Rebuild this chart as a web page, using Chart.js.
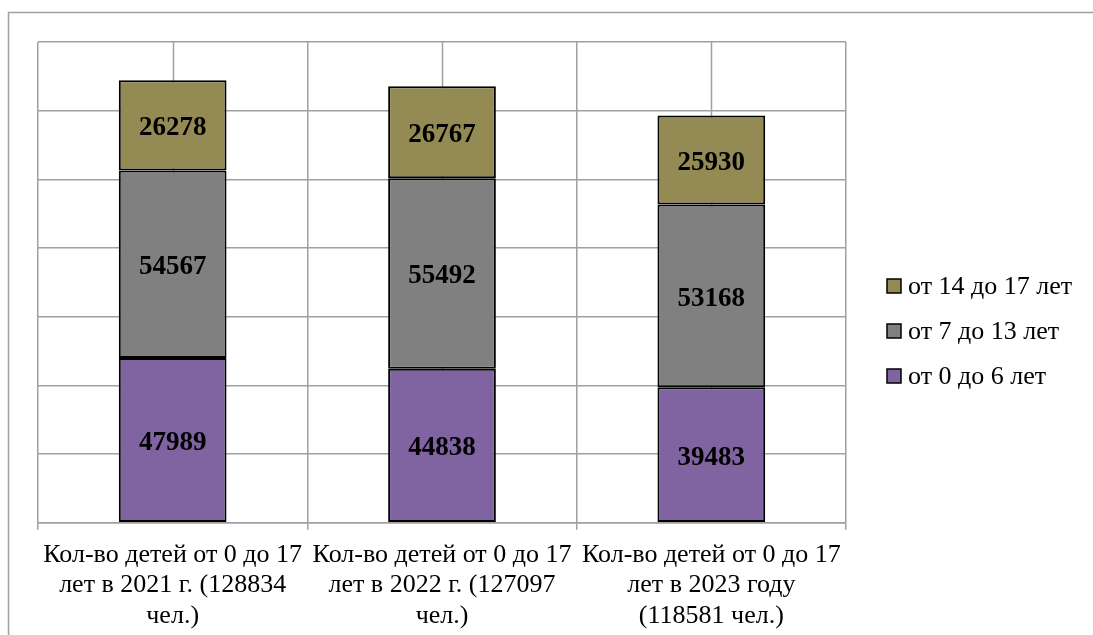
<!DOCTYPE html>
<html>
<head>
<meta charset="utf-8">
<script src="https://cdn.jsdelivr.net/npm/chart.js@4.4.1/dist/chart.umd.min.js"></script>
<style>
  body { margin: 0; background: #fff; }
  #wrap { width: 1093px; height: 635px; position: relative; overflow: hidden; }
</style>
</head>
<body>
<div id="wrap"><canvas id="kids" width="1093" height="641"></canvas></div>
<script>
const categories = [
    ['Кол-во детей от 0 до 17', 'лет в 2021 г. (128834', 'чел.)'],
    ['Кол-во детей от 0 до 17', 'лет в 2022 г. (127097', 'чел.)'],
    ['Кол-во детей от 0 до 17', 'лет в 2023 году', '(118581 чел.)']
];
const age0to6 = [47989, 44838, 39483];
const age7to13 = [54567, 55492, 53168];
const age14to17 = [26278, 26767, 25930];

const seriesNames = ['от 0 до 6 лет', 'от 7 до 13 лет', 'от 14 до 17 лет'];
const seriesColors = ['#8064A2', '#808080', '#948A54'];

const gridGray = '#a0a0a0';
const serif = '"Liberation Serif", "Times New Roman", serif';

// outer frame of the chart object
const framePlugin = {
    id: 'frame',
    beforeDraw(chart) {
        const ctx = chart.ctx;
        ctx.save();
        ctx.strokeStyle = gridGray;
        ctx.lineWidth = 1.5;
        ctx.strokeRect(8.5, 12.5, 1200, 800);
        ctx.restore();
    }
};

// extra vertical lines through category centres
const centreLines = {
    id: 'centreLines',
    beforeDatasetsDraw(chart) {
        const ctx = chart.ctx;
        const x = chart.scales.x;
        const area = chart.chartArea;
        ctx.save();
        ctx.strokeStyle = gridGray;
        ctx.lineWidth = 1.5;
        for (let i = 0; i < categories.length; i++) {
            let px = Math.round(x.getPixelForTick(i)) + 0.5;
            ctx.beginPath();
            ctx.moveTo(px, area.top);
            ctx.lineTo(px, area.bottom);
            ctx.stroke();
        }
        ctx.restore();
    }
};

// value labels in the middle of each segment
const valueLabels = {
    id: 'valueLabels',
    afterDatasetsDraw(chart) {
        const ctx = chart.ctx;
        ctx.save();
        ctx.font = 'bold 27px ' + serif;
        ctx.fillStyle = '#000';
        ctx.textAlign = 'center';
        ctx.textBaseline = 'middle';
        chart.data.datasets.forEach(function (ds, di) {
            chart.getDatasetMeta(di).data.forEach(function (bar, i) {
                let mid = (bar.y + bar.base) / 2;
                ctx.fillText(ds.data[i], bar.x, mid + 3);
            });
        });
        ctx.restore();
    }
};

// legend on the right, top series first
const sideLegend = {
    id: 'sideLegend',
    afterDraw(chart) {
        const ctx = chart.ctx;
        const left = chart.chartArea.right + 41;
        ctx.save();
        ctx.font = '26px ' + serif;
        ctx.textBaseline = 'middle';
        ctx.textAlign = 'left';
        let row = 0;
        for (let di = chart.data.datasets.length - 1; di >= 0; di--) {
            let ds = chart.data.datasets[di];
            let yc = 286 + row * 45;
            ctx.fillStyle = ds.backgroundColor;
            ctx.fillRect(left, yc - 7, 14, 14);
            ctx.strokeStyle = '#000';
            ctx.lineWidth = 1.5;
            ctx.strokeRect(left, yc - 7, 14, 14);
            ctx.fillStyle = '#000';
            ctx.fillText(ds.label, left + 21, yc + 1);
            row++;
        }
        ctx.restore();
    }
};

let ctx = document.getElementById('kids').getContext('2d');

let kidsChart = new Chart(ctx, {
    type: 'bar',
    data: {
        labels: categories,
        datasets: [age0to6, age7to13, age14to17].map(function (values, i) {
            return {
                label: seriesNames[i],
                data: values,
                backgroundColor: seriesColors[i],
                borderColor: '#000',
                borderWidth: 2,
                borderSkipped: false,
                barPercentage: 0.4,
                categoryPercentage: 1.0
            };
        })
    },
    options: {
        responsive: false,
        animation: false,
        layout: {
            padding: { left: 38, top: 42, right: 247, bottom: 0 }
        },
        plugins: {
            legend: { display: false },
            tooltip: { enabled: false }
        },
        scales: {
            x: {
                stacked: true,
                grid: {
                    color: gridGray,
                    lineWidth: 1.5,
                    tickLength: 7,
                    offset: true
                },
                border: { color: gridGray, width: 1.5 },
                ticks: {
                    color: '#000',
                    maxRotation: 0,
                    autoSkip: false,
                    padding: 10,
                    font: { family: serif, size: 26, lineHeight: 1.17 }
                }
            },
            y: {
                stacked: true,
                min: 0,
                max: 140000,
                ticks: { display: false, stepSize: 20000 },
                grid: { color: gridGray, lineWidth: 1.5, drawTicks: false },
                border: { display: false }
            }
        }
    },
    plugins: [framePlugin, centreLines, valueLabels, sideLegend]
});
</script>
</body>
</html>
